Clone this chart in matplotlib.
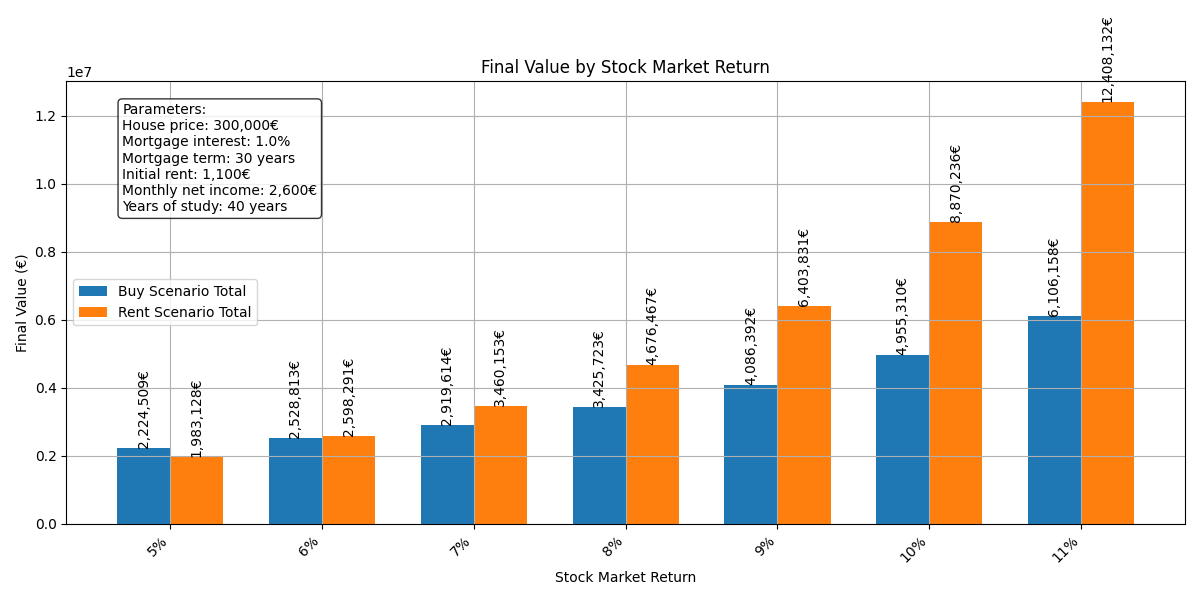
import numpy as np
import matplotlib.pyplot as plt

returns = ["5%", "6%", "7%", "8%", "9%", "10%", "11%"]
buy_totals = [2224509, 2528813, 2919614, 3425723, 4086392, 4955310, 6106158]
rent_totals = [1983128, 2598291, 3460153, 4676467, 6403831, 8870236, 12408132]

params_text = ("Parameters:\n"
               "House price: 300,000€\n"
               "Mortgage interest: 1.0%\n"
               "Mortgage term: 30 years\n"
               "Initial rent: 1,100€\n"
               "Monthly net income: 2,600€\n"
               "Years of study: 40 years")

x = np.arange(len(returns))
width = 0.35

fig, ax = plt.subplots(figsize=(12, 6), dpi=100)
buy_bars = ax.bar(x - width / 2, buy_totals, width, label="Buy Scenario Total")
rent_bars = ax.bar(x + width / 2, rent_totals, width, label="Rent Scenario Total")

for bars in (buy_bars, rent_bars):
    for b in bars:
        h = b.get_height()
        ax.text(b.get_x() + b.get_width() / 2, h, f"{h:,.0f}€",
                ha="center", va="bottom", rotation=90)

ax.set_xlabel("Stock Market Return")
ax.set_ylabel("Final Value (€)")
ax.set_title("Final Value by Stock Market Return")
ax.set_xticks(x)
ax.set_xticklabels(returns, rotation=45, ha="right")
ax.legend(loc="center left")
ax.grid(True)

ax.text(0.05, 0.95, params_text, transform=ax.transAxes, va="top", fontsize=10,
        bbox=dict(boxstyle="round", facecolor="white", alpha=0.8))

plt.tight_layout()
plt.savefig("out.png")
